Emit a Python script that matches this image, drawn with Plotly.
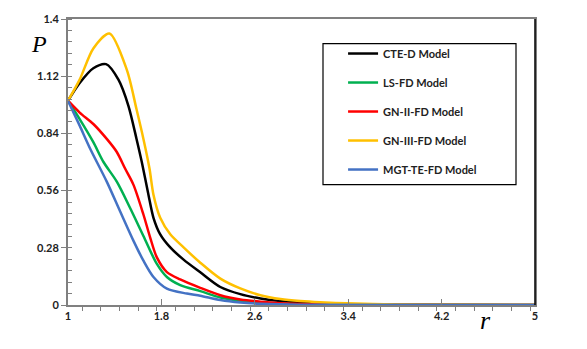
import plotly.graph_objects as go

# ---- data ----
cte_x = [1.0, 1.10, 1.217, 1.326, 1.432, 1.518, 1.587, 1.632, 1.689, 1.732, 1.79, 1.876, 1.99, 2.133, 2.305, 2.476, 2.648, 2.82, 3.05, 3.4, 4.0, 5.0]
cte_y = [1.0, 1.087, 1.159, 1.179, 1.103, 0.974, 0.813, 0.700, 0.540, 0.427, 0.346, 0.282, 0.222, 0.160, 0.088, 0.053, 0.032, 0.019, 0.011, 0.004, 0.001, 0.0]

ls_x = [1.0, 1.10, 1.217, 1.304, 1.418, 1.532, 1.646, 1.761, 1.847, 1.961, 2.133, 2.305, 2.476, 2.648, 2.9, 3.4, 5.0]
ls_y = [1.0, 0.910, 0.797, 0.700, 0.604, 0.475, 0.338, 0.201, 0.137, 0.097, 0.068, 0.037, 0.021, 0.012, 0.005, 0.001, 0.0]

gn2_x = [1.0, 1.10, 1.217, 1.332, 1.418, 1.489, 1.561, 1.646, 1.704, 1.761, 1.847, 1.961, 2.133, 2.305, 2.476, 2.648, 2.82, 3.1, 3.6, 5.0]
gn2_y = [1.0, 0.942, 0.886, 0.813, 0.749, 0.668, 0.588, 0.443, 0.330, 0.233, 0.161, 0.125, 0.084, 0.048, 0.027, 0.016, 0.009, 0.004, 0.001, 0.0]

gn3_x = [1.0, 1.10, 1.217, 1.355, 1.504, 1.587, 1.646, 1.698, 1.732, 1.79, 1.876, 1.99, 2.133, 2.305, 2.476, 2.648, 2.82, 2.99, 3.16, 3.39, 3.8, 4.3, 5.0]
gn3_y = [1.0, 1.103, 1.256, 1.329, 1.151, 0.958, 0.813, 0.668, 0.540, 0.427, 0.346, 0.282, 0.207, 0.129, 0.081, 0.048, 0.029, 0.019, 0.013, 0.008, 0.003, 0.001, 0.0]

mgt_x = [1.0, 1.10, 1.19, 1.332, 1.446, 1.561, 1.646, 1.732, 1.847, 2.018, 2.133, 2.305, 2.476, 2.648, 3.0, 5.0]
mgt_y = [1.0, 0.878, 0.765, 0.604, 0.459, 0.314, 0.217, 0.137, 0.080, 0.056, 0.045, 0.024, 0.012, 0.006, 0.001, 0.0]

names = ["CTE-D Model", "LS-FD Model", "GN-II-FD Model", "GN-III-FD Model", "MGT-TE-FD Model"]
colors = ["#000000", "#00b050", "#ff0000", "#ffc000", "#4472c4"]
xs = [cte_x, ls_x, gn2_x, gn3_x, mgt_x]
ys = [cte_y, ls_y, gn2_y, gn3_y, mgt_y]

x_ticks = [1, 1.8, 2.6, 3.4, 4.2, 5]
x_ticklabels = ["1", "1.8", "2.6", "3.4", "4.2", "5"]
y_ticks = [0, 0.28, 0.56, 0.84, 1.12, 1.4]
y_ticklabels = ["0", "0.28", "0.56", "0.84", "1.12", "1.4"]

fig = go.Figure()
for i, (n, c, x, y) in enumerate(zip(names, colors, xs, ys)):
    fig.add_trace(go.Scatter(x=x, y=y, mode="lines", name=n, legendgroup=f"g{i}",
                             line=dict(color=c, width=2.5, shape="spline", smoothing=0.8)))

tickfont = dict(family="Lato, Open Sans, sans-serif", size=11, color="#222222", weight="bold")

fig.update_layout(
    width=587, height=349,
    margin=dict(l=68, r=52, t=15, b=44),
    paper_bgcolor="white", plot_bgcolor="white",
    showlegend=True,
    legend=dict(x=0.589, y=0.93, xanchor="left", yanchor="top",
                bgcolor="rgba(0,0,0,0)", borderwidth=0,
                font=dict(family="Lato, Open Sans, sans-serif", size=11, color="#222222", weight="bold"),
                tracegroupgap=10, itemwidth=30),
    xaxis=dict(range=[1, 5], tickvals=x_ticks, ticktext=x_ticklabels,
               showgrid=False, zeroline=False,
               showline=True, linecolor="#808080", linewidth=2, mirror=True,
               ticks="inside", ticklen=6, tickcolor="#808080", tickwidth=1,
               minor=dict(dtick=0.16, ticks="outside", ticklen=4, tickcolor="#808080", showgrid=False),
               tickfont=tickfont),
    yaxis=dict(range=[0, 1.4], tickvals=y_ticks, ticktext=y_ticklabels,
               showgrid=False, zeroline=False,
               showline=True, linecolor="#808080", linewidth=2, mirror=True,
               ticks="outside", ticklen=5, tickcolor="#808080", tickwidth=1,
               minor=dict(dtick=0.056, ticks="inside", ticklen=4, tickcolor="#808080", showgrid=False),
               tickfont=tickfont),
)

# right border (black) and legend box
fig.add_shape(type="line", xref="paper", yref="paper", x0=1, x1=1, y0=0, y1=1,
              line=dict(color="#000000", width=1.5))
fig.add_shape(type="rect", xref="paper", yref="paper",
              x0=(323 - 68) / 467, x1=(516 - 68) / 467,
              y0=(305 - 183) / 290, y1=(305 - 40) / 290,
              line=dict(color="#000000", width=1.2), fillcolor="rgba(0,0,0,0)")

# axis symbols
fig.add_annotation(x=(39 - 68) / 467, y=(305 - 40) / 290, xref="paper", yref="paper",
                   text="<i>P</i>", showarrow=False, xanchor="center", yanchor="middle",
                   font=dict(family="Liberation Serif, Times New Roman, serif", size=24, color="#000000"))
fig.add_annotation(x=(485 - 68) / 467, y=(305 - 321) / 290, xref="paper", yref="paper",
                   text="<i>r</i>", showarrow=False, xanchor="center", yanchor="middle",
                   font=dict(family="Liberation Serif, Times New Roman, serif", size=26, color="#000000"))

fig.write_html("out.html", config={"displayModeBar": False},
               post_script="document.body.style.margin='0';document.body.style.overflow='hidden';")
